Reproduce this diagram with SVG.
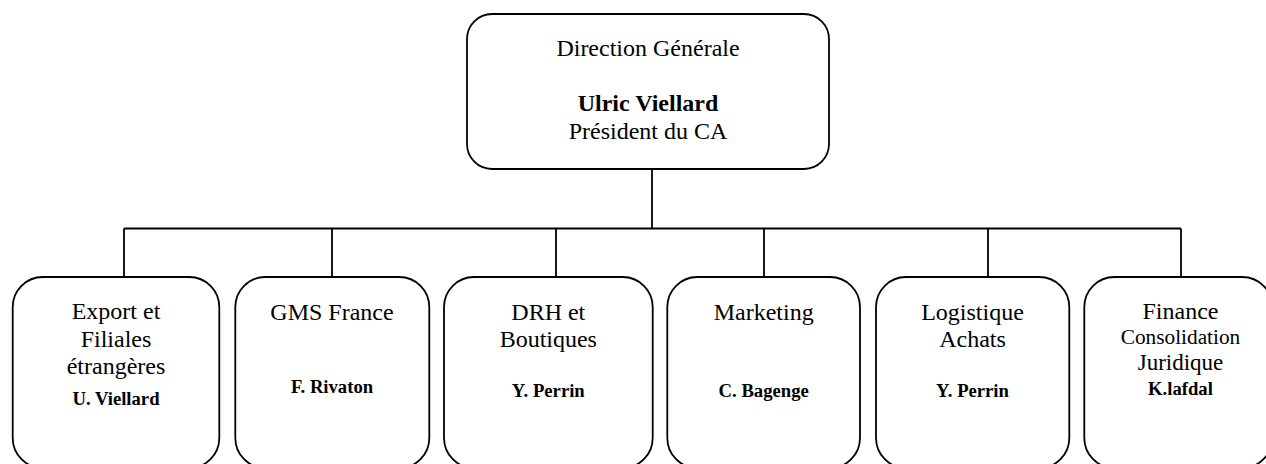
<svg xmlns="http://www.w3.org/2000/svg" width="1266" height="464" viewBox="0 0 1266 464" font-family="'Liberation Serif', Tinos, 'Times New Roman', 'DejaVu Serif', serif">
<style>
.box{fill:#fff;stroke:#000;stroke-width:1.8}
.ln{fill:none;stroke:#000;stroke-width:1.8}
text{font-family:'Liberation Serif', Tinos, 'Times New Roman', 'DejaVu Serif', serif;fill:#000;text-anchor:middle}
.t{font-size:24px}
.s{font-size:21.3px}
.n{font-size:18.67px;font-weight:bold}
.b{font-size:24px;font-weight:bold}
</style>
<rect width="1266" height="464" fill="#fff"/>
<g id="connectors">
<line class="ln" x1="652" y1="169" x2="652" y2="228.5"/>
<line class="ln" x1="124" y1="228.5" x2="1181" y2="228.5"/>
<line class="ln" x1="124" y1="228.5" x2="124" y2="277"/>
<line class="ln" x1="332" y1="228.5" x2="332" y2="277"/>
<line class="ln" x1="556" y1="228.5" x2="556" y2="277"/>
<line class="ln" x1="764" y1="228.5" x2="764" y2="277"/>
<line class="ln" x1="988" y1="228.5" x2="988" y2="277"/>
<line class="ln" x1="1181" y1="228.5" x2="1181" y2="277"/>
</g>
<g id="direction">
<rect class="box" x="467" y="14" width="362" height="155" rx="25" ry="25"/>
<text class="t" x="648" y="55.5">Direction Générale</text>
<text class="b" x="648" y="111">Ulric Viellard</text>
<text class="t" x="648" y="138.5">Président du CA</text>
</g>
<g id="export">
<rect class="box" x="12.7" y="277" width="206.6" height="191" rx="30" ry="30"/>
<text class="t" x="116" y="319">Export et</text>
<text class="t" x="116" y="347">Filiales</text>
<text class="t" x="116" y="374">étrangères</text>
<text class="n" x="116" y="405">U. Viellard</text>
</g>
<g id="gms">
<rect class="box" x="235.3" y="277" width="194" height="191" rx="30" ry="30"/>
<text class="t" x="332" y="319.5">GMS France</text>
<text class="n" x="332" y="393">F. Rivaton</text>
</g>
<g id="drh">
<rect class="box" x="444" y="277" width="208.7" height="191" rx="30" ry="30"/>
<text class="t" x="548.3" y="319.5">DRH et</text>
<text class="t" x="548.3" y="347">Boutiques</text>
<text class="n" x="548.3" y="397">Y. Perrin</text>
</g>
<g id="marketing">
<rect class="box" x="667.3" y="277" width="192.7" height="191" rx="30" ry="30"/>
<text class="t" x="763.7" y="319.5">Marketing</text>
<text class="n" x="763.7" y="397">C. Bagenge</text>
</g>
<g id="logistique">
<rect class="box" x="876" y="277" width="193.3" height="191" rx="30" ry="30"/>
<text class="t" x="972.5" y="319.5">Logistique</text>
<text class="t" x="972.5" y="347">Achats</text>
<text class="n" x="972.5" y="397">Y. Perrin</text>
</g>
<g id="finance">
<rect class="box" x="1084.3" y="277" width="188" height="191" rx="30" ry="30"/>
<text class="t" x="1180.5" y="319">Finance</text>
<text class="s" x="1180.5" y="344">Consolidation</text>
<text class="t" x="1180.5" y="370" style="font-size:23px">Juridique</text>
<text class="n" x="1180.5" y="394.5">K.lafdal</text>
</g>
</svg>
